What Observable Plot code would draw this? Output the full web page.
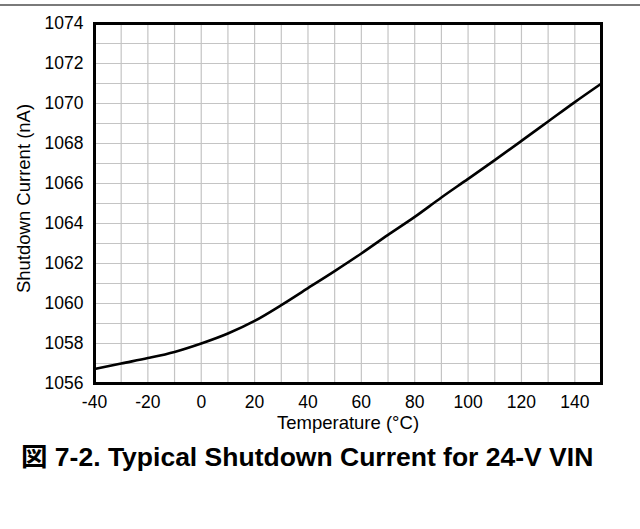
<!DOCTYPE html>
<html><head><meta charset="utf-8">
<script src="https://cdn.jsdelivr.net/npm/d3@7"></script>
<script src="https://cdn.jsdelivr.net/npm/@observablehq/plot@0.6"></script>
<style>
body{margin:0;background:#fff;font-family:"Liberation Sans",Arial,sans-serif}
#topline{position:absolute;left:0;top:4px;width:640px;height:2px;background:#7a7a7a}
#chart{position:absolute;left:0;top:0}
#title{position:absolute;left:21px;top:444px;line-height:1;font-weight:bold;font-size:26.5px;color:#000;white-space:nowrap;font-family:"Liberation Sans","Noto Sans CJK JP",Arial,sans-serif}
</style></head>
<body>
<div id="chart"></div>
<div id="topline"></div>
<div id="title">図 7-2. Typical Shutdown Current for 24-V VIN</div>
<script>
const temperature = [-40,-30,-20,-10,0,10,20,30,40,50,60,70,80,90,100,110,120,130,140,150];
const current = [1056.72,1057.0,1057.27,1057.58,1058.0,1058.5,1059.13,1059.92,1060.77,1061.62,1062.5,1063.43,1064.33,1065.3,1066.23,1067.17,1068.13,1069.1,1070.07,1071.0];
const xTicks = [-40,-20,0,20,40,60,80,100,120,140];
const yTicks = [1056,1058,1060,1062,1064,1066,1068,1070,1072,1074];
const xGrid = d3.range(-40,151,10);
const yGrid = d3.range(1056,1075,1);
const data = temperature.map((t,i)=>({t, c: current[i]}));

const chart = Plot.plot({
  width: 640, height: 440,
  marginTop: 23, marginBottom: 57, marginLeft: 94, marginRight: 39,
  style: {fontFamily: '"Liberation Sans", Arial, sans-serif', fontSize: "18px", background: "transparent", color: "#000"},
  x: {domain: [-40,150]},
  y: {domain: [1056,1074]},
  marks: [
    Plot.ruleX(xGrid, {stroke: "#c4c4c4", strokeWidth: 1.2}),
    Plot.ruleY(yGrid, {stroke: "#c4c4c4", strokeWidth: 1.2}),
    Plot.line(data, {x: "t", y: "c", stroke: "#000", strokeWidth: 2.6, curve: "monotone-x"}),
    Plot.frame({stroke: "#000", strokeWidth: 3}),
    Plot.axisX({ticks: xTicks, tickSize: 0, tickPadding: 12, tickFormat: d => String(d), label: "Temperature (°C)", labelAnchor: "center", labelArrow: "none", labelOffset: 45}),
    Plot.axisY({ticks: yTicks, tickSize: 0, tickPadding: 11, tickFormat: d => String(d), label: "Shutdown Current (nA)", labelAnchor: "center", labelArrow: "none", labelOffset: 78})
  ]
});
chart.querySelectorAll('g[aria-label$="tick label"] text').forEach(t => { t.setAttribute("font-size", "17.5"); t.style.fontSize = "17.5px"; });
chart.querySelectorAll('g[aria-label="x-axis label"] text, g[aria-label="y-axis label"] text').forEach(t => { t.style.fontSize = "18.5px"; });
const yl = chart.querySelector('[aria-label="y-axis label"]');
if (yl) yl.setAttribute("transform", (yl.getAttribute("transform") || "") + " translate(0,-5)");
document.getElementById("chart").appendChild(chart);
</script>
</body></html>
